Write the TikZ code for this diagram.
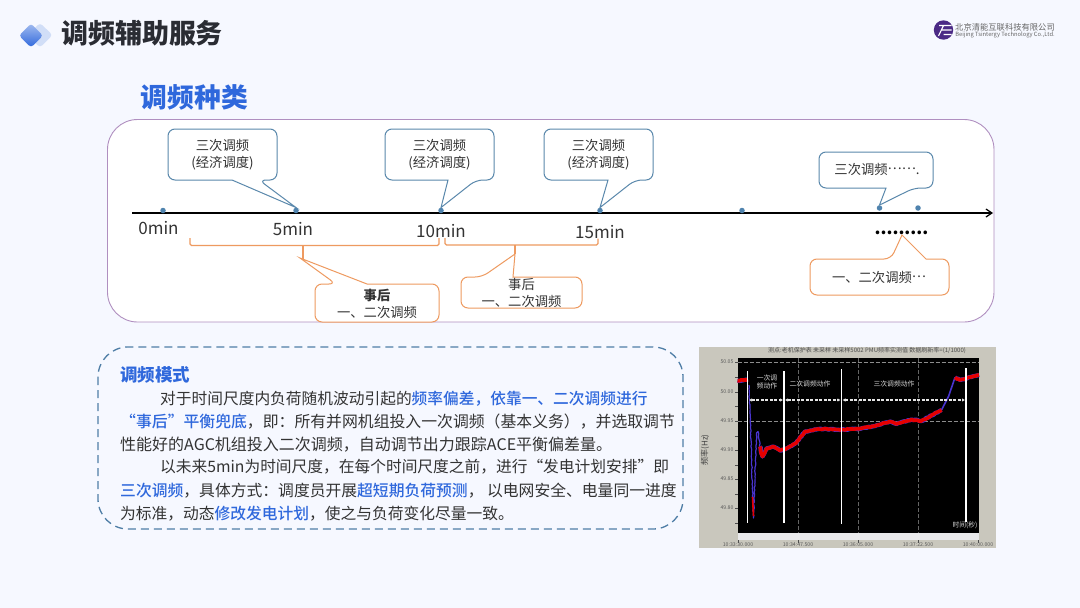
\documentclass[tikz,border=0pt]{standalone}
\usepackage{fontspec}
\setmainfont{Noto Sans CJK SC}
\newfontfamily\medf{Noto Sans CJK SC Medium}
\usetikzlibrary{arrows.meta,shadings,decorations.pathmorphing}
\definecolor{pagebg}{HTML}{F6F8FF}
\definecolor{titleink}{HTML}{2A2C33}
\definecolor{hl}{HTML}{2F68DC}
\definecolor{panelline}{HTML}{B08FC0}
\definecolor{bluecall}{HTML}{5A88AC}
\definecolor{orangecall}{HTML}{EE9A60}
\definecolor{dotblue}{HTML}{4F83AE}
\definecolor{dashblue}{HTML}{4F7EA6}
\definecolor{ink}{HTML}{333333}
\definecolor{chartbg}{HTML}{C9C7BD}
\definecolor{logoviolet}{HTML}{4B2A86}
\definecolor{traceblue}{HTML}{4A35D0}
\newcommand{\hlb}[1]{{\medf\textcolor{hl}{#1}}}
\newcommand{\bfs}[1]{\fontsize{#1}{18}\selectfont}
\newcommand{\middots}[1]{\raisebox{.33em}{#1}}
\tikzset{
  x=1pt,y=-1pt,
  callblue/.style={draw=bluecall,line width=1pt,rounded corners=7pt,fill=white},
  callorange/.style={draw=orangecall,line width=1pt,rounded corners=7pt,fill=white},
  calltext/.style={font=\fontsize{13.3}{17}\selectfont,text=ink,align=center,inner sep=0pt},
  timelabel/.style={font=\fontsize{17}{20}\selectfont,text=ink,inner sep=0pt},
  bodyline/.style={text=ink,anchor=base west,inner sep=0pt},
  tdot/.style={circle,fill=dotblue,inner sep=0pt,minimum size=5.5pt},
  bracket/.style={draw=orangecall,line width=1.2pt,rounded corners=1.5pt},
  chartlabel/.style={font=\fontsize{5.2}{6}\selectfont,text=black!65,inner sep=0pt},
  chartwhite/.style={font=\fontsize{6.8}{8.5}\selectfont,text=white!85!black,inner sep=0pt},
  divider/.style={draw=white,line width=1.4pt},
  grid/.style={draw=white!55!black,line width=0.5pt,dash pattern=on 4pt off 2pt},
  span/.style={draw=white!90!black,line width=1.1pt,dash pattern=on 3pt off 1.5pt,{Latex[length=3pt,width=3.5pt]}-{Latex[length=3pt,width=3.5pt]}},
  noisy/.style={decorate,decoration={random steps,segment length=2pt,amplitude=0.5pt}},
  tracethick/.style={draw=red!90!black,line width=3.6pt,line join=round,noisy},
  traceback/.style={draw=traceblue,line width=4.2pt,line join=round,noisy},
  tracethin/.style={draw=traceblue,line width=1.2pt,line join=round,noisy},
}
\begin{document}
\begin{tikzpicture}
\useasboundingbox (0,0) rectangle (1080,608);
\fill[pagebg] (0,0) rectangle (1080,608);
% icon
\fill[rounded corners=3pt,fill=hl!22] (40,23) -- (52.5,35) -- (40,47.5) -- (27.5,35) -- cycle;
\shade[rounded corners=3pt,top color=hl!45,bottom color=hl] (31,23.5) -- (43,35.5) -- (31,47.5) -- (19,35.5) -- cycle;
\node[font=\fontsize{27}{30}\selectfont\bfseries,text=titleink,inner sep=0pt] (title) at (142,33) {调频辅助服务};
% logo
\fill[fill=logoviolet] (943.5,30) circle (9.7);
\draw[white,line width=1.1pt] (939,25.5) -- (951.5,25.5) (941.5,30) -- (951.5,30) (943.5,34.5) -- (951.5,34.5) (943.5,25.5) -- (938.5,36);
\node[font=\fontsize{8.3}{9}\selectfont,text=black!60,inner sep=0pt] (logocn) at (1005,27) {北京清能互联科技有限公司};
\node[font=\fontsize{5.8}{7}\selectfont,text=black!60,inner sep=0pt] (logoen) at (1005,34.5) {Beijing Tsintergy Technology Co.,Ltd.};
% panel
\node[font=\fontsize{26.8}{30}\selectfont\bfseries,text=hl,inner sep=0pt] (kinds) at (194.5,97) {调频种类};
\draw[draw=panelline,fill=white,line width=0.9pt,rounded corners=30pt] (107.5,119.5) rectangle (994,322);
% axis
\coordinate (axs) at (132,213);
\coordinate (axe) at (993,213);
\draw[black,line width=1.2pt,-{Straight Barb[length=6pt,width=8pt]}] (axs) -- (axe);
\node[tdot] (d0) at (163,210.5) {};
\node[tdot] (d5) at (296,210.5) {};
\node[tdot] (d10) at (441,210.5) {};
\node[tdot] (d15) at (600,210.5) {};
\node[tdot] (d20) at (742,210.5) {};
\node[tdot] (d21) at (879.5,208) {};
\node[tdot] (d22) at (918,208) {};
\node[timelabel] (t0) at (158.5,228) {0min};
\node[timelabel] (t5) at (293,229) {5min};
\node[timelabel] (t10) at (441,231) {10min};
\node[timelabel] (t15) at (600,232) {15min};
\node[font=\fontsize{17}{20}\selectfont\bfseries,text=black,inner sep=0pt] (tdots) at (901.5,233) {.........};
% blue callouts
\draw[callblue] (168,129) -- (277,129) -- (277,180) -- (259,180) [sharp corners] -- (d5.north) -- (232,180) [rounded corners=7pt] -- (168,180) -- cycle;
\node[calltext] (c1) at (222.5,154.5) {三次调频\\(经济调度)};
\draw[callblue] (385,129) -- (494,129) -- (494,180) -- (476,180) [sharp corners] -- (d10.north) -- (448,180) [rounded corners=7pt] -- (385,180) -- cycle;
\node[calltext] (c2) at (439.5,154.5) {三次调频\\(经济调度)};
\draw[callblue] (544,129) -- (653,129) -- (653,180) -- (635,180) [sharp corners] -- (d15.north) -- (608,180) [rounded corners=7pt] -- (544,180) -- cycle;
\node[calltext] (c3) at (598.5,154.5) {三次调频\\(经济调度)};
\draw[callblue] (819,152) -- (933,152) -- (933,188) -- (914,188) [sharp corners] -- (d21.north) -- (886,188) [rounded corners=7pt] -- (819,188) -- cycle;
\node[calltext] (c4) at (877,169) {三次调频\middots{……}.};
% brackets
\coordinate (b1s) at (190,238);
\coordinate (b1m) at (303,245.5);
\coordinate (b1e) at (439,238);
\coordinate (b2s) at (445,238);
\coordinate (b2m) at (515,245);
\coordinate (b2e) at (598,238.5);
\coordinate (tip5) at (300,258);
\coordinate (tip6) at (515,254);
\coordinate (tip7) at (902,235);
\draw[bracket] (b1s) |- (b1m) -| (b1e);
\draw[bracket] (b2s) |- (b2m) -| (b2e);
\draw[bracket,rounded corners=0pt] (b1m) -- (303,259);
\draw[bracket,rounded corners=0pt] (b2m) -- (tip6);
% orange callouts
\draw[callorange] (315,284) -- (336,284) [sharp corners] -- (tip5) -- (367,284) [rounded corners=7pt] -- (439,284) -- (439,322) -- (315,322) -- cycle;
\node[calltext] (c5) at (377,303.5) {\textbf{事后}\\一、二次调频};
\draw[callorange] (461,277) -- (482,277) [sharp corners] -- (tip6) -- (513,277) [rounded corners=7pt] -- (582,277) -- (582,308) -- (461,308) -- cycle;
\node[calltext] (c6) at (521.5,292.5) {事后\\一、二次调频};
\draw[callorange] (810,259) -- (891,259) [sharp corners] -- (tip7) -- (926,259) [rounded corners=7pt] -- (949,259) -- (949,295) -- (810,295) -- cycle;
\node[calltext] (c7) at (879,277) {一、二次调频\middots{…}};
% dashed box
\draw[dashblue,line width=1.3pt,dash pattern=on 8pt off 5pt,rounded corners=30pt] (98,347) rectangle (683,529);
\node[font=\fontsize{17.5}{20}\selectfont\bfseries,text=hl,anchor=base west,inner sep=0pt] (mode) at (120,381) {调频模式};
\node[bodyline,font=\bfs{15.72}] (l1) at (160,404) {对于时间尺度内负荷随机波动引起的\hlb{频率偏差，依靠一、二次调频进行}};
\node[bodyline,font=\bfs{15.85}] (l2) at (120,427) {\hlb{“事后”平衡兜底}，即：所有并网机组投入一次调频（基本义务），并选取调节};
\node[bodyline,font=\bfs{16}] (l3) at (120,450) {性能好的AGC机组投入二次调频，自动调节出力跟踪ACE平衡偏差量。};
\node[bodyline,font=\bfs{15.72}] (l4) at (160,472.5) {以未来5min为时间尺度，在每个时间尺度之前，进行“发电计划安排”即};
\node[bodyline,font=\bfs{15.8}] (l5) at (120,496) {\hlb{三次调频}，具体方式：调度员开展\hlb{超短期负荷预测}， 以电网安全、电量同一进度};
\node[bodyline,font=\bfs{15.75}] (l6) at (120,519) {为标准，动态\hlb{修改发电计划}，使之与负荷变化尽量一致。};
% chart
\fill[chartbg] (699,347) rectangle (996,548);
\fill[pagebg!70!chartbg] (737.5,533) rectangle (979,540);
\fill[black] (737.5,358) rectangle (979,533);
\foreach \yy in {362,421}{\draw[grid] (737.5,\yy) -- (979,\yy);}
\foreach \xx in {798,858,918}{\draw[grid,draw=white!40!black] (\xx,358) -- (\xx,533);}
\foreach \yy in {362,377,392,406.5,421,436,450,465,479,494,508,523}{\draw[black!70,line width=0.5pt] (735,\yy) -- (737.5,\yy);}
\foreach \xx in {738,798,858,918,978}{\draw[black!70,line width=0.5pt] (\xx,540) -- (\xx,543);}
\draw[tracethin] (749,385) -- (751,440) -- (752.5,490) -- (753.5,518) -- (755,473) -- (756.5,433) -- (758,431.5) -- (760,446.5);
\draw[red!90!black,line width=1.6pt] (752.5,497) -- (753.5,516);
\draw[traceback] (760,446.5) -- (762.5,456.5) -- (766.5,448.5) -- (773,446.5) -- (780,450.5) -- (786.5,448.5) -- (796.5,442.5) -- (805,431.5) -- (818.5,429) -- (841.5,429.5) -- (858.5,429) -- (875,426) -- (890,421.5) -- (896.5,424) -- (911.5,419.5) -- (921.5,421) -- (941.5,410);
\draw[traceblue,line width=1.6pt,line join=round] (941.5,410) -- (948.5,396.5) -- (955,377.5);
\draw[traceback] (955,377.5) -- (960,380) -- (979,375);
\draw[traceback] (737.5,380.7) -- (748,379.5);
\draw[tracethick] (737.5,380.7) -- (748,379.5);
\draw[tracethick] (760,446.5) -- (762.5,456.5) -- (766.5,448.5) -- (773,446.5) -- (780,450.5) -- (786.5,448.5) -- (796.5,442.5) -- (805,431.5) -- (818.5,429) -- (841.5,429.5) -- (858.5,429) -- (875,426) -- (890,421.5) -- (896.5,424) -- (911.5,419.5) -- (921.5,421) -- (941.5,410);
\draw[tracethick] (955,377.5) -- (960,380) -- (979,375);
\draw[divider] (747.5,371) -- (747.5,523);
\draw[divider] (784,371) -- (784,523);
\draw[divider] (841.5,369) -- (841.5,524);
\draw[divider] (966,368) -- (966,522);
\draw[span] (749,400) -- (783,400);
\draw[span] (785,400) -- (840.5,400);
\draw[span] (842.5,400) -- (965,400);
\node[chartwhite,align=center] (p1) at (767,382) {一次调\\频动作};
\node[chartwhite] (p2) at (810,384) {二次调频动作};
\node[chartwhite] (p3) at (894,384) {三次调频动作};
\node[chartwhite] (p4) at (965,525) {时间(秒)};
\node[font=\fontsize{6}{7}\selectfont,text=black!70,inner sep=0pt] (ctitle) at (867,350.5) {测点:老机保护表 未采样 未采样5002 PMU频率实测值 数据刷新率=(1/1000)};
\node[font=\fontsize{8}{9}\selectfont,text=black!75,rotate=90,inner sep=0pt] (ylab) at (705,450) {频率(Hz)};
\node[chartlabel] (y1) at (727,362) {50.05};
\node[chartlabel] (y2) at (727,392) {50.00};
\node[chartlabel] (y3) at (727,421) {49.95};
\node[chartlabel] (y4) at (727,450) {49.90};
\node[chartlabel] (y5) at (727,479) {49.85};
\node[chartlabel] (y6) at (727,508) {49.80};
\node[chartlabel] (x1) at (738,545) {10:33:30.000};
\node[chartlabel] (x2) at (798,545) {10:34:47.500};
\node[chartlabel] (x3) at (858,545) {10:36:05.000};
\node[chartlabel] (x4) at (918,545) {10:37:22.500};
\node[chartlabel] (x5) at (978,545) {10:40:00.000};
\end{tikzpicture}
\end{document}
